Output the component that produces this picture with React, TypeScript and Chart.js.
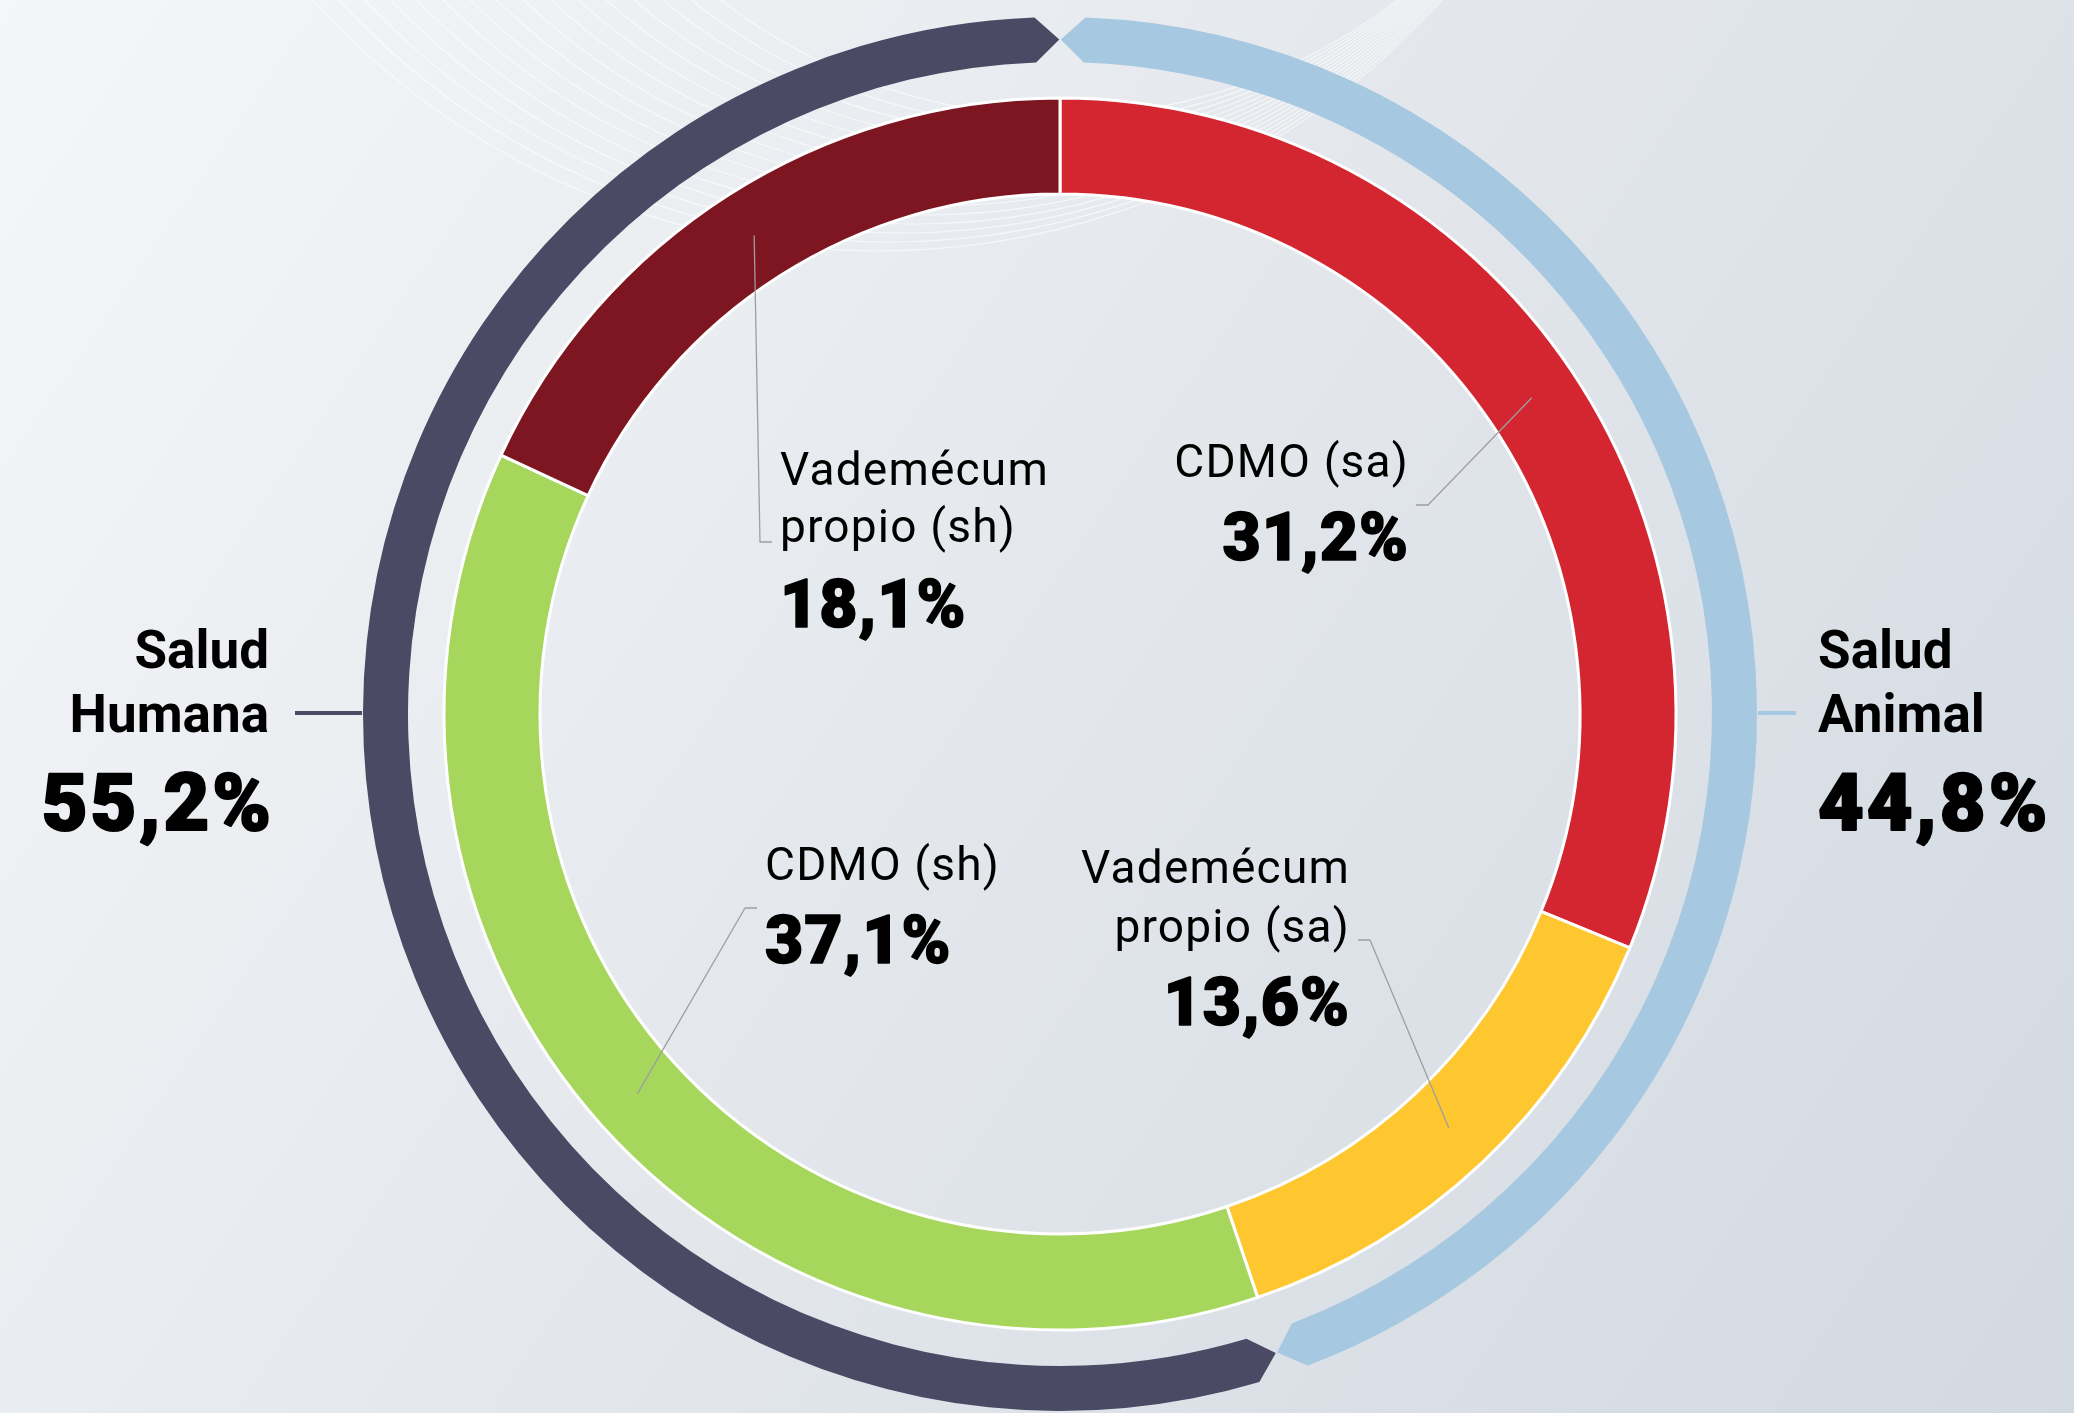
import React, { useEffect, useRef } from 'react';
import { Chart, registerables } from 'chart.js';

Chart.register(...registerables);

// ---------- data ----------
const groupLabels = ['Salud\nAnimal', 'Salud\nHumana'];
const groupValues = [44.8, 55.2];
const groupColors = ['#a6c8e1', '#4b4a65'];

const segmentLabels = ['CDMO (sa)', 'Vademécum\npropio (sa)', 'CDMO (sh)', 'Vademécum\npropio (sh)'];
const segmentValues = [31.2, 13.6, 37.1, 18.1];
const segmentColors = ['#d32630', '#fec62f', '#a6d65c', '#7d1620'];

// ---------- layout (positions only) ----------
const W = 2074;
const H = 1413;
const OUTER_R = 697;
const RING_W = 45;
const GAP_W = 36;
const DONUT_W = 96;

type LabelLayout = {
  x: number;
  align: CanvasTextAlign;
  lineBase: number[];
  valueBase: number;
  elbow: [number, number];
  end: [number, number];
};

const segmentLayout: LabelLayout[] = [
  { x: 1409, align: 'right', lineBase: [477], valueBase: 560, elbow: [1428, 505], end: [1416, 505] },
  { x: 1350, align: 'right', lineBase: [883, 942], valueBase: 1025, elbow: [1370, 940], end: [1358, 940] },
  { x: 765, align: 'left', lineBase: [880], valueBase: 963, elbow: [745, 908], end: [757, 908] },
  { x: 780, align: 'left', lineBase: [485, 542], valueBase: 627, elbow: [760, 542], end: [772, 542] },
];

const groupLayout = [
  { x: 1818, valueX: 1818, align: 'left' as CanvasTextAlign, lineBase: [668, 732], valueBase: 830, connector: 39, side: 1 },
  { x: 269, valueX: 274, align: 'right' as CanvasTextAlign, lineBase: [668, 732], valueBase: 830, connector: 68, side: -1 },
];

const fmt = (v: number) => v.toFixed(1).replace('.', ',') + '%';

const deg = Math.PI / 180;

function heavyText(ctx: CanvasRenderingContext2D, text: string, x: number, y: number, stroke: number) {
  ctx.fillText(text, x, y);
  ctx.lineJoin = 'round';
  ctx.lineWidth = stroke;
  ctx.strokeStyle = '#000';
  ctx.strokeText(text, x, y);
}

const customPlugin = {
  id: 'customDraw',
  beforeDraw(chart: any) {
    const ctx: CanvasRenderingContext2D = chart.ctx;
    ctx.save();
    const g = ctx.createLinearGradient(0, 0, W, H);
    g.addColorStop(0, '#f5f6f8');
    g.addColorStop(0.5, '#e3e7ec');
    g.addColorStop(1, '#d2d9e1');
    ctx.fillStyle = g;
    ctx.fillRect(0, 0, W, H);
    // faint decorative swoosh lines
    ctx.strokeStyle = 'rgba(255,255,255,0.6)';
    ctx.lineWidth = 1.2;
    for (let i = 0; i < 16; i++) {
      const r = 760 - i * 14;
      const low = 251 - i * 9;
      const cy = low - r;
      const px = 1442 - i * 3;
      const cx = px - Math.sqrt(r * r - cy * cy);
      ctx.beginPath();
      ctx.arc(cx, cy, r, 0, Math.PI);
      ctx.stroke();
    }
    ctx.restore();
  },
  afterDatasetsDraw(chart: any) {
    const ctx: CanvasRenderingContext2D = chart.ctx;
    ctx.save();

    // outer group ring with pointed ends
    const meta0 = chart.getDatasetMeta(0);
    const d = 2.1 * deg;
    const gp = 0.06 * deg;
    meta0.data.forEach((arc: any, i: number) => {
      const { x, y, startAngle, endAngle, innerRadius, outerRadius } = arc;
      const mid = (innerRadius + outerRadius) / 2;
      ctx.beginPath();
      ctx.arc(x, y, outerRadius, startAngle + d, endAngle - d);
      ctx.lineTo(x + mid * Math.cos(endAngle - gp), y + mid * Math.sin(endAngle - gp));
      ctx.lineTo(x + innerRadius * Math.cos(endAngle - d), y + innerRadius * Math.sin(endAngle - d));
      ctx.arc(x, y, innerRadius, endAngle - d, startAngle + d, true);
      ctx.lineTo(x + mid * Math.cos(startAngle + gp), y + mid * Math.sin(startAngle + gp));
      ctx.closePath();
      ctx.fillStyle = groupColors[i];
      ctx.fill();

      // connector + labels
      const L = groupLayout[i];
      const ex = x + L.side * outerRadius;
      ctx.strokeStyle = groupColors[i];
      ctx.lineWidth = 4;
      ctx.beginPath();
      ctx.moveTo(ex + L.side * 1, y - 1);
      ctx.lineTo(ex + L.side * L.connector, y - 1);
      ctx.stroke();

      ctx.fillStyle = '#000';
      ctx.textAlign = L.align;
      ctx.textBaseline = 'alphabetic';
      ctx.font = 'bold 53px Roboto';
      (ctx as any).letterSpacing = '0px';
      groupLabels[i].split('\n').forEach((line, k) => ctx.fillText(line, L.x, L.lineBase[k]));
      ctx.font = '900 79px Roboto';
      (ctx as any).letterSpacing = '3px';
      heavyText(ctx, fmt(groupValues[i]), L.valueX, L.valueBase, 2.2);
    });

    // inner segments: leader lines + labels
    const meta2 = chart.getDatasetMeta(2);
    meta2.data.forEach((arc: any, i: number) => {
      const L = segmentLayout[i];
      const c = arc.getCenterPoint();
      ctx.strokeStyle = '#9e9e9e';
      ctx.lineWidth = 1.3;
      ctx.beginPath();
      ctx.moveTo(c.x, c.y);
      ctx.lineTo(L.elbow[0], L.elbow[1]);
      ctx.lineTo(L.end[0], L.end[1]);
      ctx.stroke();

      ctx.fillStyle = '#000';
      ctx.textAlign = L.align;
      ctx.font = '46px Roboto';
      (ctx as any).letterSpacing = '1.2px';
      segmentLabels[i].split('\n').forEach((line, k) => ctx.fillText(line, L.x, L.lineBase[k]));
      ctx.font = '900 66px Roboto';
      (ctx as any).letterSpacing = '1px';
      heavyText(ctx, fmt(segmentValues[i]), L.x, L.valueBase, 1.6);
    });

    ctx.restore();
  },
};

export default function App() {
  const ref = useRef<HTMLCanvasElement | null>(null);

  useEffect(() => {
    document.body.style.margin = '0';
    const canvas = ref.current;
    if (!canvas) return;
    const innerR = OUTER_R - RING_W - GAP_W - DONUT_W;
    const chart = new Chart(canvas, {
      type: 'doughnut',
      data: {
        labels: segmentLabels,
        datasets: [
          { data: groupValues, backgroundColor: 'rgba(0,0,0,0)', borderWidth: 0, weight: RING_W } as any,
          { data: [1], backgroundColor: 'rgba(0,0,0,0)', borderWidth: 0, weight: GAP_W } as any,
          {
            data: segmentValues,
            backgroundColor: segmentColors,
            borderColor: '#ffffff',
            borderWidth: 3,
            weight: DONUT_W,
          } as any,
        ],
      },
      options: {
        responsive: false,
        animation: false,
        events: [],
        radius: OUTER_R,
        cutout: ((innerR / OUTER_R) * 100).toFixed(4) + '%',
        rotation: 0,
        layout: { padding: { left: 46, top: 15, right: 0, bottom: 0 } },
        plugins: {
          legend: { display: false },
          tooltip: { enabled: false },
          title: { display: false },
        },
      } as any,
      plugins: [customPlugin],
    });
    return () => chart.destroy();
  }, []);

  return (
    <div style={{ position: 'absolute', left: 0, top: 0, width: W, height: H, overflow: 'hidden' }}>
      <canvas ref={ref} width={W} height={H} style={{ display: 'block', width: W, height: H }} />
    </div>
  );
}
